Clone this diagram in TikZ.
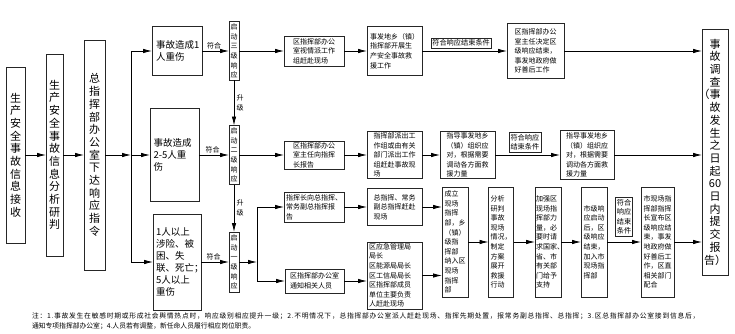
\documentclass[tikz,border=0pt]{standalone}
\usepackage{fontspec}
\setmainfont{Noto Sans CJK SC}
\usetikzlibrary{arrows.meta}
\begin{document}
\begin{tikzpicture}[x=1pt,y=-1pt,
  every node/.style={inner sep=0pt, outer sep=0pt},
  box/.style={draw=black!85, line width=0.7pt, fill=white},
  vbig/.style={box, align=center, font=\fontsize{11}{12.7}\selectfont},
  dbox/.style={box, align=left, text width=42pt, font=\fontsize{9.5}{12}\selectfont},
  ebox/.style={box, align=center, font=\fontsize{7}{9.6}\selectfont},
  sbox/.style={box, align=left, font=\fontsize{7}{9.6}\selectfont},
  cbox/.style={draw=black!85, line width=0.5pt, fill=white, inner sep=1.5pt, align=center, font=\fontsize{7.2}{9.6}\selectfont},
  lab/.style={font=\fontsize{7}{8}\selectfont},
  arr/.style={-{Latex[length=9pt,width=4.5pt]}, line width=0.8pt},
  wh/.style 2 args={minimum width=#1, minimum height=#2},
]
\useasboundingbox[fill=white] (0,0) rectangle (735,334);

% left column
\node[vbig, wh={19}{176}] (A) at (15.5,155) {生\\产\\安\\全\\事\\故\\信\\息\\接\\收};
\node[vbig, wh={17}{202}] (B) at (54.5,155) {生\\产\\安\\全\\事\\故\\信\\息\\分\\析\\研\\判};
\node[vbig, wh={21}{230}] (C) at (94.5,155) {总\\指\\挥\\部\\办\\公\\室\\下\\达\\响\\应\\指\\令};
\coordinate (j1) at (131,155);

% accident classes
\node[dbox, wh={50}{49}] (D1) at (177,51) {事故造成1\\人重伤};
\node[dbox, wh={49}{93}] (D2) at (174.5,155) {事故造成\\2-5人重\\伤};
\node[dbox, wh={48}{96}] (D3) at (177,262) {1人以上\\涉险、被\\困、失\\联、死亡；\\5人以上\\重伤};

% response levels
\node[ebox, wh={10}{59}] (E1) at (234,51) {启\\动\\三\\级\\响\\应};
\node[ebox, wh={10}{59}] (E2) at (234,155) {启\\动\\二\\级\\响\\应};
\node[ebox, wh={10}{60}] (E3) at (234,262) {启\\动\\一\\级\\响\\应};
\coordinate (j2) at (257,262);

% row 1
\node[sbox, wh={60}{30}] (F1) at (314,51) {区指挥部办公\\室视情派工作\\组赶赴现场};
\node[sbox, wh={55}{49}] (G1) at (394.5,51) {事发地乡（镇）\\指挥部开展生\\产安全事故救\\援工作};
\node[sbox, wh={57}{55}] (H1) at (535.5,51) {区指挥部办公\\室主任决定区\\级响应结束，\\事发地政府做\\好善后工作};

% row 2
\node[sbox, wh={60}{28}] (F2) at (314,155) {区指挥部办公\\室主任向指挥\\长报告};
\node[sbox, wh={55}{47}] (G2) at (394.5,155) {指挥部派出工\\作组或由有关\\部门派出工作\\组赶赴事故现\\场};
\node[sbox, wh={55}{47}] (H2) at (467.5,155) {指导事发地乡\\（镇）组织应\\对，根据需要\\调动各方面救\\援力量};
\node[sbox, wh={54}{49}] (I2) at (587,155) {指导事发地乡\\（镇）组织应\\对，根据需要\\调动各方面救\\援力量};

% row 3
\node[sbox, wh={60}{30}] (F3a) at (314,207) {指挥长向总指挥、\\常务副总指挥报\\告};
\node[sbox, wh={59}{24}] (F3b) at (314.5,281) {区指挥部办公室\\通知相关人员};
\node[sbox, wh={55}{37}] (G3a) at (394.5,207) {总指挥、常务\\副总指挥赶赴\\现场};
\node[sbox, wh={55}{67}, text width=51pt] (G3b) at (394.5,275.5) {区应急管理局\\局长\\区能源局局长\\区工信局局长\\区指挥部成员\\单位主要负责\\人赶赴现场};
\node[sbox, wh={26}{110}] (H3) at (455,242) {成立\\现场\\指挥\\部，乡\\（镇）\\级指\\挥部\\纳入区\\现场\\指挥\\部};
\node[sbox, wh={25}{110}] (I3) at (501,242) {分析\\研判\\事故\\现场\\情况，\\制定\\方案\\展开\\救援\\行动};
\node[sbox, wh={26}{110}, text width=24pt] (J3) at (548,242) {加强区\\现场指\\挥部力\\量，必\\要时请\\求国家、\\省、市\\有关部\\门给予\\支持};
\node[sbox, wh={26}{110}] (K3) at (594,242) {市级响\\应启动\\后，区\\级响应\\结束，\\加入市\\现场指\\挥部};
\node[sbox, wh={33}{110}] (L3) at (657.5,242) {市现场指\\挥部指挥\\长宣布区\\级响应结\\束，事发\\地政府做\\好善后工\\作，区直\\相关部门\\配合};

% final box
\node[vbig, wh={26}{246}] (Fin) at (715,152) {事\\故\\调\\查\\\llap{（}事\\故\\发\\生\\之\\日\\起\\60\\日\\内\\提\\交\\报\\告）};

% connectors: left part
\draw[arr] (A) -- (B);
\draw[arr] (B) -- (C);
\draw[arr] (C) -- (j1);
\draw[arr] (j1) |- (D1);
\draw[arr] (j1) -- (D2);
\draw[arr] (j1) |- (D3);
\draw[arr] (D1) -- node[lab, above=2pt, pos=0.45] {符合} (E1);
\draw[arr] (D2) -- node[lab, above=2pt, pos=0.45] {符合} (E2);
\draw[arr] (D3) -- node[lab, above=2pt, pos=0.45] {符合} (E3);
\draw[arr] (E1) -- node[lab, right=2.5pt, align=center, font=\fontsize{7}{10}\selectfont] {升\\级} (E2);
\draw[arr] (E2) -- node[lab, right=2.5pt, align=center, font=\fontsize{7}{10}\selectfont] {升\\级} (E3);

% row 1
\draw[arr] (E1) -- (F1);
\draw[arr] (F1) -- (G1);
\draw[arr] (G1) -- node[cbox, above=3pt, pos=0.46] (C1) {符合响应结束条件} (H1);
\draw[arr] (H1) -- (H1 -| Fin.west);

% row 2
\draw[arr] (E2) -- (F2);
\draw[arr] (F2) -- (G2);
\draw[arr] (G2) -- (H2);
\draw[arr] (H2) -- node[cbox, above=3pt, pos=0.46] (C2) {符合响应\\结束条件} (I2);
\draw[arr] (I2) -- (I2 -| Fin.west);

% row 3
\draw[arr] (E3) -- (j2);
\draw[arr] (j2) |- (F3a);
\draw[arr] (j2) |- (F3b);
\draw[arr] (F3a) -- (G3a);
\draw[arr] (F3b) -- (F3b -| G3b.west);
\draw[arr] (G3a) -- (G3a -| H3.west);
\draw[arr] (G3b) -- (G3b -| H3.west);
\draw[arr] (H3) -- (I3);
\draw[arr] (I3) -- (J3);
\draw[arr] (J3) -- (K3);
\draw[arr] (K3) -- node[cbox, above=6pt, pos=0.5] (C3) {符合\\响应\\结束\\条件} (L3);
\draw[arr] (L3) -- (L3 -| Fin.west);

% note
\node[anchor=west, font=\fontsize{6.8}{8}\selectfont\addfontfeature{LetterSpace=10.6}] (N1) at (32,316) {注：1.事故发生在敏感时期或形成社会舆情热点时，响应级别相应提升一级；2.不明情况下，总指挥部办公室派人赶赴现场、指挥先期处置，报常务副总指挥、总指挥；3.区总指挥部办公室接到信息后，};
\node[anchor=west, font=\fontsize{6.8}{8}\selectfont] (N2) at (32,326) {通知专项指挥部办公室；4.人员若有调整，新任命人员履行相应岗位职责。};
\end{tikzpicture}
\end{document}
